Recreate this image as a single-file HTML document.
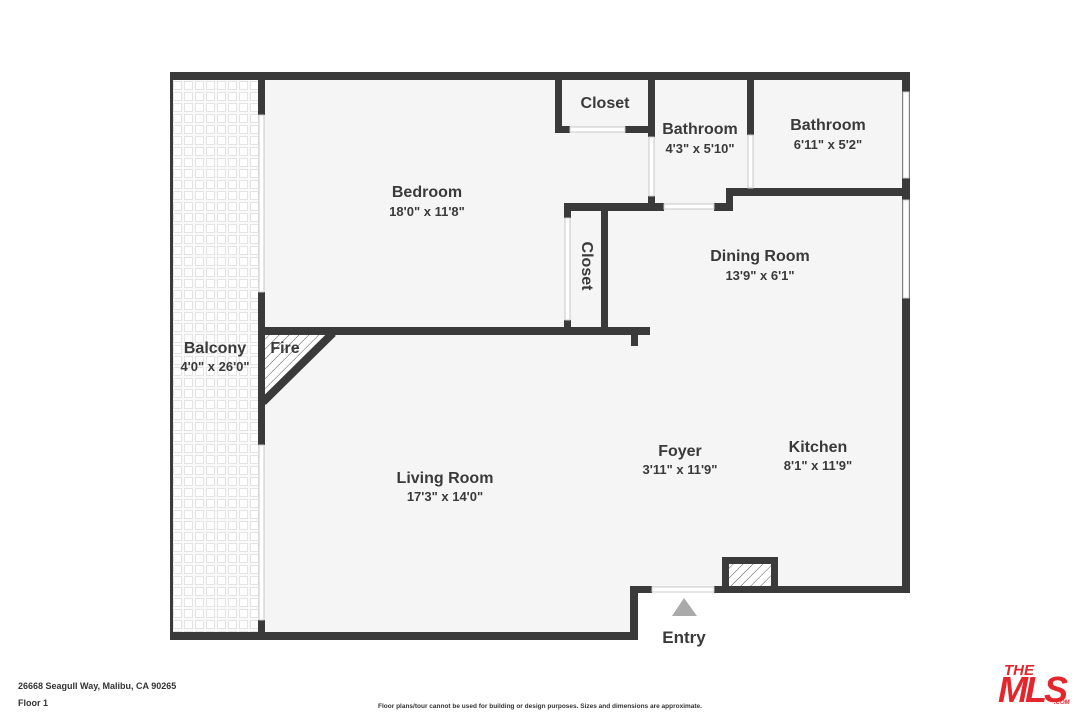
<!DOCTYPE html>
<html><head><meta charset="utf-8"><style>
html,body{margin:0;padding:0;background:#fff;}
svg{display:block;font-family:"Liberation Sans",sans-serif;}
.t{font-weight:bold;fill:#3a3a3a;text-anchor:middle;}
</style></head><body>
<svg width="1080" height="720" viewBox="0 0 1080 720" xmlns="http://www.w3.org/2000/svg">
<defs>
<pattern id="chk" width="11" height="11" patternUnits="userSpaceOnUse" x="172" y="80">
<rect width="11" height="11" fill="#fafafa"/>
<rect x="1.5" y="1.5" width="8" height="8" fill="#fff" stroke="#e4e4e4" stroke-width="1"/>
</pattern>
<pattern id="hatch" width="7" height="7" patternUnits="userSpaceOnUse" patternTransform="rotate(45)">
<rect width="7" height="7" fill="#fff"/>
<line x1="0" y1="0" x2="0" y2="7" stroke="#555" stroke-width="1"/>
</pattern>
</defs>
<rect x="172" y="80" width="88" height="555" fill="url(#chk)"/>
<polygon points="262,78 905,78 905,590 634,590 634,636 262,636" fill="#f5f5f5"/>
<polygon points="265,335 330,335 265,400" fill="url(#hatch)"/>
<line x1="333" y1="333" x2="263" y2="402" stroke="#3a3a3a" stroke-width="8"/>
<g fill="#3a3a3a">
<rect x="170" y="72" width="740" height="8"/>
<rect x="170" y="72" width="3" height="568"/>
<rect x="170" y="632" width="468" height="8"/>
<rect x="630" y="586" width="8" height="54"/>
<rect x="630" y="586" width="22" height="7"/>
<rect x="714" y="586" width="196" height="7"/>
<rect x="902" y="72" width="8" height="521"/>
<rect x="722" y="557" width="56" height="36"/>
<rect x="258" y="80" width="7" height="35"/>
<rect x="258" y="292" width="7" height="153"/>
<rect x="258" y="620" width="7" height="15"/>
<rect x="262" y="327" width="388" height="8"/>
<rect x="631" y="335" width="7" height="11"/>
<rect x="555" y="80" width="7" height="53"/>
<rect x="555" y="126" width="15" height="7"/>
<rect x="625" y="126" width="30" height="7"/>
<rect x="648" y="80" width="7" height="57"/>
<rect x="648" y="196" width="7" height="15"/>
<rect x="747" y="80" width="7" height="55"/>
<rect x="747" y="188" width="7" height="8"/>
<rect x="733" y="188" width="170" height="8"/>
<rect x="726" y="188" width="7" height="23"/>
<rect x="564" y="203" width="100" height="8"/>
<rect x="714" y="203" width="19" height="8"/>
<rect x="601" y="211" width="7" height="121"/>
<rect x="564" y="203" width="7" height="15"/>
<rect x="564" y="320" width="7" height="12"/>
</g>
<rect x="729" y="564" width="42" height="22" fill="url(#hatch)"/>
<g fill="#fff" stroke="#c8c8c8" stroke-width="1">
<rect x="259" y="115" width="5" height="177"/>
<rect x="259" y="445" width="5" height="175"/>
<rect x="570" y="127" width="55" height="5"/>
<rect x="649" y="137" width="5" height="59"/>
<rect x="748" y="135" width="5" height="53"/>
<rect x="664" y="204" width="50" height="5"/>
<rect x="565" y="218" width="5" height="102"/>
<rect x="652" y="587" width="62" height="5"/>
<rect x="903" y="92" width="6" height="86"/>
<rect x="903" y="200" width="6" height="98"/>
</g>
<polygon points="672,616 684,598 697,616" fill="#aaa"/>
<g class="t">
<text x="605" y="108" font-size="16">Closet</text>
<text x="700" y="134" font-size="16">Bathroom</text>
<text x="700" y="153" font-size="13">4'3" x 5'10"</text>
<text x="828" y="130" font-size="16">Bathroom</text>
<text x="828" y="149" font-size="13">6'11" x 5'2"</text>
<text x="427" y="197" font-size="16">Bedroom</text>
<text x="427" y="216" font-size="13">18'0" x 11'8"</text>
<text x="760" y="261" font-size="16">Dining Room</text>
<text x="760" y="280" font-size="13">13'9" x 6'1"</text>
<text x="0" y="0" font-size="16" transform="translate(582,266) rotate(90)">Closet</text>
<text x="215" y="353" font-size="16">Balcony</text>
<text x="215" y="371" font-size="13">4'0" x 26'0"</text>
<text x="285" y="353" font-size="16">Fire</text>
<text x="680" y="456" font-size="16">Foyer</text>
<text x="680" y="474" font-size="13">3'11" x 11'9"</text>
<text x="818" y="452" font-size="16">Kitchen</text>
<text x="818" y="470" font-size="13">8'1" x 11'9"</text>
<text x="445" y="483" font-size="16">Living Room</text>
<text x="445" y="501" font-size="13">17'3" x 14'0"</text>
<text x="684" y="643" font-size="17">Entry</text>
</g>
<text x="18" y="689" font-size="9" font-weight="bold" fill="#333">26668 Seagull Way, Malibu, CA 90265</text>
<text x="18" y="706" font-size="9" font-weight="bold" fill="#333">Floor 1</text>
<text x="540" y="708" font-size="6.5" font-weight="bold" fill="#333" text-anchor="middle">Floor plans/tour cannot be used for building or design purposes. Sizes and dimensions are approximate.</text>
<g fill="#e3262b" font-weight="bold" font-style="italic">
<text x="1004" y="675" font-size="15">THE</text>
<text x="998" y="702" font-size="36" letter-spacing="-3">MLS</text>
<text x="1054" y="704" font-size="6">.COM</text>
</g>
</svg>
</body></html>
